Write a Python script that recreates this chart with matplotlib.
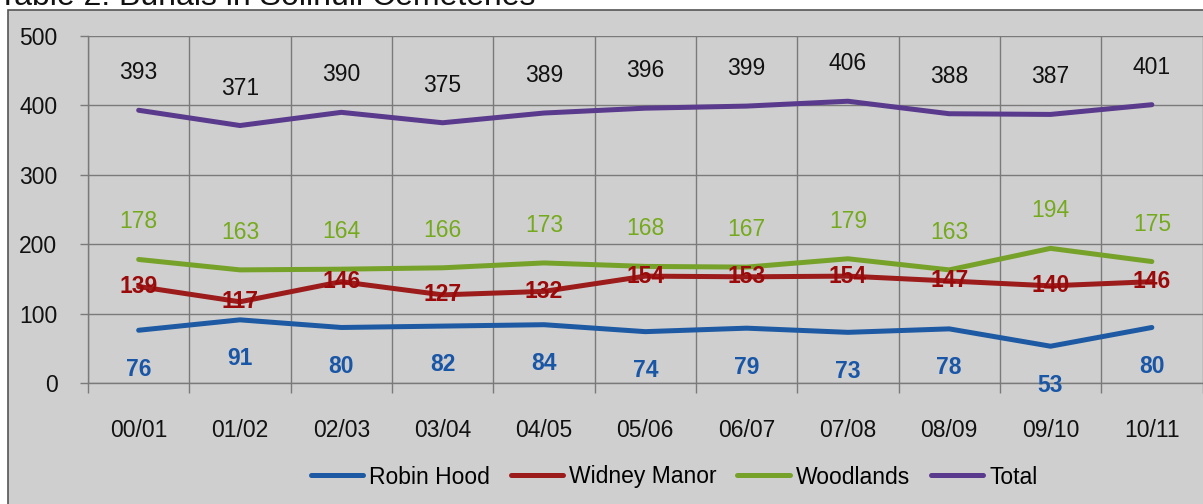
"""Burials in Solihull Cemeteries - line chart"""

import matplotlib

matplotlib.use("Agg")
import matplotlib.pyplot as plt
from matplotlib import patches

# データ
years = ["00/01", "01/02", "02/03", "03/04", "04/05", "05/06",
         "06/07", "07/08", "08/09", "09/10", "10/11"]
robin_hood = [76, 91, 80, 82, 84, 74, 79, 73, 78, 53, 80]
widney_manor = [139, 117, 146, 127, 132, 154, 153, 154, 147, 140, 146]
woodlands = [178, 163, 164, 166, 173, 168, 167, 179, 163, 194, 175]
total = [393, 371, 390, 375, 389, 396, 399, 406, 388, 387, 401]
y_ticks = [0, 100, 200, 300, 400, 500]

W, H = 1203, 504
BG = "#cfcfcf"
GRID = "#7a7a7a"
FS = 16.5

plt.rcParams["font.family"] = ["Liberation Sans", "DejaVu Sans"]

fig = plt.figure(figsize=(W / 100, H / 100), dpi=100)
fig.patch.set_facecolor("white")

# チャート外枠
frame = patches.Rectangle(
    (8 / W, -0.01), 1.1, 1 - 10 / H + 0.01,
    transform=fig.transFigure, facecolor=BG, edgecolor="#555555",
    linewidth=1.2, zorder=-5,
)
fig.patches.append(frame)

# タイトル (上端で切れている)
fig.text(-0.002, 1 - 5 / H, "Table 2: Burials in Solihull Cemeteries",
         fontsize=23, va="baseline", ha="left", color="#111111")

left, right = 88 / W, 1202.5 / W
bottom, top = 1 - 383 / H, 1 - 36 / H
ax = fig.add_axes([left, bottom, right - left, top - bottom])
ax.set_zorder(1)
ax.patch.set_alpha(0)

x = list(range(len(years)))
series = [
    ("Robin Hood", robin_hood, "#1d5aa3", "#1a56a6", -28, "bold"),
    ("Widney Manor", widney_manor, "#9c1b1b", "#9a0a0a", 0, "bold"),
    ("Woodlands", woodlands, "#77a22a", "#76aa1e", 27, "normal"),
    ("Total", total, "#5a3a8c", "#111111", 27, "normal"),
]

for name, vals, color, lcolor, off, weight in series:
    ax.plot(x, vals, color=color, linewidth=3.6, solid_capstyle="round",
            solid_joinstyle="round", label=name, zorder=3)
    for xi, v in zip(x, vals):
        ax.annotate(str(v), (xi, v), xytext=(0, off), textcoords="offset points",
                    ha="center", va="center", fontsize=FS, color=lcolor,
                    fontweight=weight, zorder=4)

ax.set_xlim(-0.5, len(years) - 0.5)
ax.set_ylim(0, 500)

# 目盛りとグリッド
ax.set_xticks(x)
ax.set_xticklabels(years)
ax.set_xticks([i - 0.5 for i in range(len(years) + 1)], minor=True)
ax.tick_params(axis="x", which="major", length=0, pad=26, labelsize=FS,
               labelcolor="#111111")
ax.tick_params(axis="x", which="minor", length=7, width=1, color=GRID)
ax.set_yticks(y_ticks)
ax.tick_params(axis="y", which="major", length=6, width=1, color=GRID,
               pad=16, labelsize=FS, labelcolor="#111111")

ax.grid(True, axis="y", which="major", color=GRID, linewidth=1)
ax.grid(True, axis="x", which="minor", color=GRID, linewidth=1)
ax.set_axisbelow(True)

for side in ["top", "right"]:
    ax.spines[side].set_visible(False)
for side in ["left", "bottom"]:
    ax.spines[side].set_color(GRID)
    ax.spines[side].set_linewidth(1)

# 凡例
fig.legend(loc="center", bbox_to_anchor=(674 / W, 1 - 477 / H), ncol=4,
           frameon=False, fontsize=FS, handlelength=2.3, handletextpad=0.25,
           columnspacing=0.9)

fig.savefig("out.png", dpi=100, facecolor=fig.get_facecolor())
